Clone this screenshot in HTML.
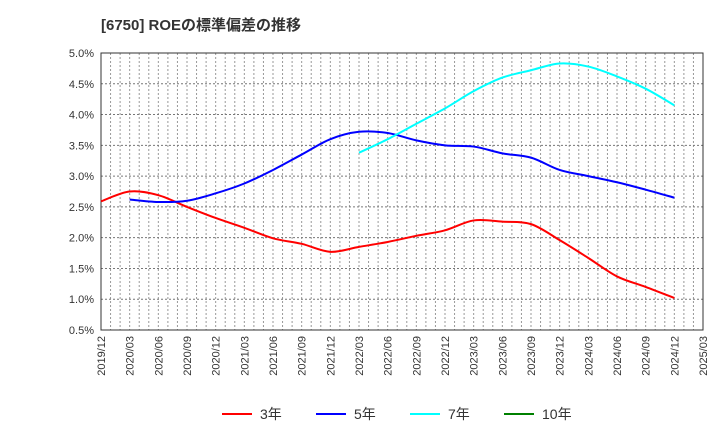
<!DOCTYPE html>
<html><head><meta charset="utf-8"><style>
body{margin:0;background:#fff;}
svg{display:block;font-family:"Liberation Sans","Noto Sans CJK JP",sans-serif;}
</style></head><body>
<svg id="c" width="720" height="440">
<text x="101" y="30" font-size="15" font-weight="bold" fill="#333">[6750]  ROEの標準偏差の推移</text>
<g id="grid"></g><g id="axes"></g><g id="series"></g><g id="legend"></g>
</svg>
<script>
const xLabels=["2019/12","2020/03","2020/06","2020/09","2020/12","2021/03","2021/06","2021/09","2021/12","2022/03","2022/06","2022/09","2022/12","2023/03","2023/06","2023/09","2023/12","2024/03","2024/06","2024/09","2024/12","2025/03"];
const yTicks=[0.5,1.0,1.5,2.0,2.5,3.0,3.5,4.0,4.5,5.0];
const s3=[2.59,2.75,2.69,2.5,2.32,2.16,1.99,1.9,1.77,1.85,1.93,2.03,2.12,2.28,2.26,2.22,1.96,1.67,1.37,1.2,1.02];
const s5=[null,2.62,2.58,2.6,2.72,2.88,3.1,3.35,3.6,3.72,3.7,3.58,3.5,3.48,3.37,3.3,3.1,3.0,2.9,2.78,2.65];
const s7=[null,null,null,null,null,null,null,null,null,3.38,3.6,3.85,4.1,4.38,4.6,4.72,4.83,4.78,4.62,4.42,4.15];
const s10=[];
const NS="http://www.w3.org/2000/svg";
const L=101,R=703,T=53,B=330;
const X=i=>L+i*(R-L)/21;
const Y=v=>B-(v-0.5)*(B-T)/4.5;
function mk(tag,attrs,parent){const e=document.createElementNS(NS,tag);for(const k in attrs)e.setAttribute(k,attrs[k]);parent.appendChild(e);return e;}
const grid=document.getElementById('grid'),axes=document.getElementById('axes'),ser=document.getElementById('series'),leg=document.getElementById('legend');
for(let m=1;m<63;m++){const x=L+m*(R-L)/63;
const g=mk('line',{x1:x,x2:x,y1:T,y2:B,stroke:'#999','stroke-dasharray':'2,2','stroke-width':1},grid);

}
yTicks.forEach(v=>{const y=Y(v);
const g=mk('line',{x1:L,x2:R,y1:y,y2:y,stroke:'#777','stroke-dasharray':'2,2','stroke-width':1},grid);


const t=mk('text',{x:L-7,y:y+4,'text-anchor':'end','font-size':11,fill:'#333'},axes);t.textContent=v.toFixed(1)+'%';

});
xLabels.forEach((lb,i)=>{const x=X(i);
const t=mk('text',{transform:`translate(${x+4},${B+6}) rotate(-90)`,'text-anchor':'end','font-size':11,fill:'#333'},axes);t.textContent=lb;

});
const fr=mk('rect',{x:L,y:T,width:R-L,height:B-T,fill:'none',stroke:'#333','stroke-width':1},axes);


function path(arr){const p=[];arr.forEach((v,i)=>{if(v!=null)p.push([X(i),Y(v)]);});if(p.length<2)return '';
let d=`M${p[0][0]},${p[0][1]}`;
for(let i=0;i<p.length-1;i++){const p0=p[i-1]||p[i],p1=p[i],p2=p[i+1],p3=p[i+2]||p2;
d+=` C${p1[0]+(p2[0]-p0[0])/6},${p1[1]+(p2[1]-p0[1])/6} ${p2[0]-(p3[0]-p1[0])/6},${p2[1]-(p3[1]-p1[1])/6} ${p2[0]},${p2[1]}`;}
return d;}
const defs=[[s3,'#ff0000','3年','series-3yr'],[s5,'#0000ff','5年','series-5yr'],[s7,'#00ffff','7年','series-7yr'],[s10,'#008000','10年','series-10yr']];
defs.forEach(([a,c,lb,n],k)=>{const d=path(a);if(d){const e=mk('path',{d:d,fill:'none',stroke:c,'stroke-width':2},ser);

}
const lx=[222,316,410,504][k];
const g=mk('g',{},leg);


mk('line',{x1:lx,x2:lx+30,y1:414,y2:414,stroke:c,'stroke-width':2},g);
const t=mk('text',{x:lx+38,y:419,'font-size':14,fill:'#333'},g);t.textContent=lb;});
</script>
</body></html>
